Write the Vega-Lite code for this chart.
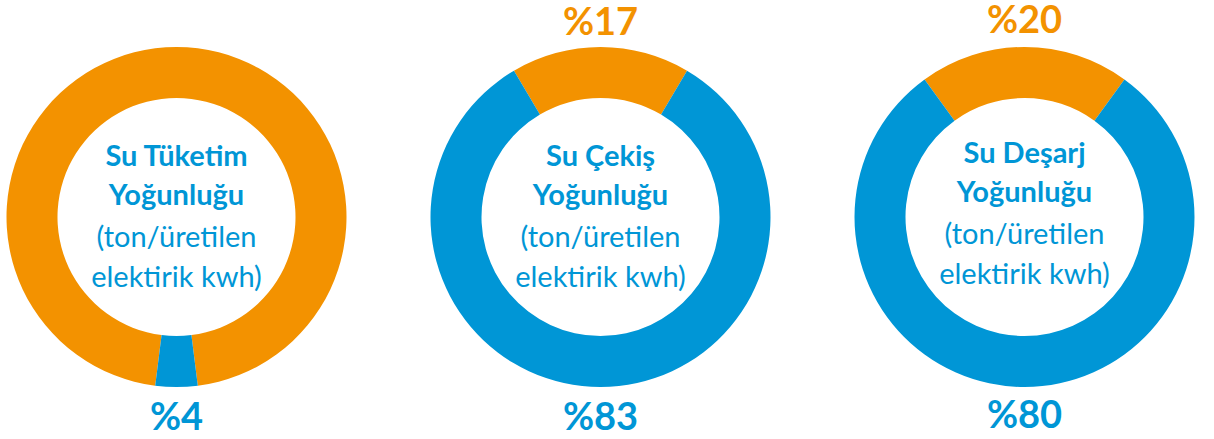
{
  "$schema": "https://vega.github.io/schema/vega-lite/v6.json",
  "padding": 0,
  "spacing": 71,
  "background": "white",
  "config": {"view": {"stroke": null}, "text": {"font": "Lato"}},
  "datasets": {
    "dilimler": [
      {"halka": 1, "part": "A", "pay": 96, "sira": 2},
      {"halka": 1, "part": "B", "pay": 4, "sira": 1},
      {"halka": 2, "part": "A", "pay": 17, "sira": 1},
      {"halka": 2, "part": "B", "pay": 83, "sira": 2},
      {"halka": 3, "part": "A", "pay": 20, "sira": 1},
      {"halka": 3, "part": "B", "pay": 80, "sira": 2}
    ],
    "metin": [
      {"halka": 1, "tur": "yuzde", "metin": "%4", "satir": 9.875, "part": "B"},
      {"halka": 1, "tur": "baslik", "metin": "Su Tüketim", "satir": 3.275, "part": "B"},
      {"halka": 1, "tur": "baslik", "metin": "Yoğunluğu", "satir": 4.25, "part": "B"},
      {"halka": 1, "tur": "birim", "metin": "(ton/üretilen", "satir": 5.3, "part": "B"},
      {"halka": 1, "tur": "birim", "metin": "elektirik kwh)", "satir": 6.3, "part": "B"},
      {"halka": 2, "tur": "yuzde", "metin": "%17", "satir": 0, "part": "A"},
      {"halka": 2, "tur": "yuzde", "metin": "%83", "satir": 9.875, "part": "B"},
      {"halka": 2, "tur": "baslik", "metin": "Su Çekiş", "satir": 3.275, "part": "B"},
      {"halka": 2, "tur": "baslik", "metin": "Yoğunluğu", "satir": 4.25, "part": "B"},
      {"halka": 2, "tur": "birim", "metin": "(ton/üretilen", "satir": 5.3, "part": "B"},
      {"halka": 2, "tur": "birim", "metin": "elektirik kwh)", "satir": 6.3, "part": "B"},
      {"halka": 3, "tur": "yuzde", "metin": "%20", "satir": -0.05, "part": "A"},
      {"halka": 3, "tur": "yuzde", "metin": "%80", "satir": 9.825, "part": "B"},
      {"halka": 3, "tur": "baslik", "metin": "Su Deşarj", "satir": 3.2, "part": "B"},
      {"halka": 3, "tur": "baslik", "metin": "Yoğunluğu", "satir": 4.175, "part": "B"},
      {"halka": 3, "tur": "birim", "metin": "(ton/üretilen", "satir": 5.225, "part": "B"},
      {"halka": 3, "tur": "birim", "metin": "elektirik kwh)", "satir": 6.225, "part": "B"}
    ]
  },
  "hconcat": [
    {
      "width": 353, "height": 434,
      "layer": [
        {
          "data": {"name": "dilimler"},
          "transform": [{"filter": "datum.halka == 1"}],
          "mark": {"type": "arc", "outerRadius": 170, "innerRadius": 119},
          "encoding": {
            "theta": {"field": "pay", "type": "quantitative", "stack": true, "scale": {"range": [3.01593, 9.29912]}},
            "color": {"field": "part", "type": "nominal", "scale": {"domain": ["A", "B"], "range": ["#F39200", "#0096D6"]}, "legend": null},
            "order": {"field": "sira", "type": "quantitative"}
          }
        },
        {
          "data": {"name": "metin"},
          "transform": [{"filter": "datum.halka == 1 && datum.tur == 'yuzde'"}],
          "mark": {"type": "text", "fontSize": 38, "fontWeight": "bold", "align": "center", "baseline": "alphabetic"},
          "encoding": {
            "y": {"field": "satir", "type": "quantitative", "scale": {"domain": [-0.875, 9.975], "reverse": true, "zero": false, "nice": false}, "axis": null},
            "text": {"field": "metin"},
            "color": {"field": "part", "type": "nominal", "legend": null}
          }
        },
        {
          "data": {"name": "metin"},
          "transform": [{"filter": "datum.halka == 1 && datum.tur == 'baslik'"}],
          "mark": {"type": "text", "fontSize": 29, "fontWeight": "bold", "align": "center", "baseline": "alphabetic"},
          "encoding": {
            "y": {"field": "satir", "type": "quantitative", "axis": null},
            "text": {"field": "metin"},
            "color": {"field": "part", "type": "nominal", "legend": null}
          }
        },
        {
          "data": {"name": "metin"},
          "transform": [{"filter": "datum.halka == 1 && datum.tur == 'birim'"}],
          "mark": {"type": "text", "fontSize": 29, "fontWeight": "normal", "align": "center", "baseline": "alphabetic"},
          "encoding": {
            "y": {"field": "satir", "type": "quantitative", "axis": null},
            "text": {"field": "metin"},
            "color": {"field": "part", "type": "nominal", "legend": null}
          }
        }
      ]
    },
    {
      "width": 353, "height": 434,
      "layer": [
        {
          "data": {"name": "dilimler"},
          "transform": [{"filter": "datum.halka == 2"}],
          "mark": {"type": "arc", "outerRadius": 170, "innerRadius": 119},
          "encoding": {
            "theta": {"field": "pay", "type": "quantitative", "stack": true, "scale": {"range": [-0.53407, 5.74911]}},
            "color": {"field": "part", "type": "nominal", "scale": {"domain": ["A", "B"], "range": ["#F39200", "#0096D6"]}, "legend": null},
            "order": {"field": "sira", "type": "quantitative"}
          }
        },
        {
          "data": {"name": "metin"},
          "transform": [{"filter": "datum.halka == 2 && datum.tur == 'yuzde'"}],
          "mark": {"type": "text", "fontSize": 38, "fontWeight": "bold", "align": "center", "baseline": "alphabetic"},
          "encoding": {
            "y": {"field": "satir", "type": "quantitative", "scale": {"domain": [-0.875, 9.975], "reverse": true, "zero": false, "nice": false}, "axis": null},
            "text": {"field": "metin"},
            "color": {"field": "part", "type": "nominal", "legend": null}
          }
        },
        {
          "data": {"name": "metin"},
          "transform": [{"filter": "datum.halka == 2 && datum.tur == 'baslik'"}],
          "mark": {"type": "text", "fontSize": 29, "fontWeight": "bold", "align": "center", "baseline": "alphabetic"},
          "encoding": {
            "y": {"field": "satir", "type": "quantitative", "axis": null},
            "text": {"field": "metin"},
            "color": {"field": "part", "type": "nominal", "legend": null}
          }
        },
        {
          "data": {"name": "metin"},
          "transform": [{"filter": "datum.halka == 2 && datum.tur == 'birim'"}],
          "mark": {"type": "text", "fontSize": 29, "fontWeight": "normal", "align": "center", "baseline": "alphabetic"},
          "encoding": {
            "y": {"field": "satir", "type": "quantitative", "axis": null},
            "text": {"field": "metin"},
            "color": {"field": "part", "type": "nominal", "legend": null}
          }
        }
      ]
    },
    {
      "width": 353, "height": 434,
      "layer": [
        {
          "data": {"name": "dilimler"},
          "transform": [{"filter": "datum.halka == 3"}],
          "mark": {"type": "arc", "outerRadius": 170, "innerRadius": 119},
          "encoding": {
            "theta": {"field": "pay", "type": "quantitative", "stack": true, "scale": {"range": [-0.62832, 5.65487]}},
            "color": {"field": "part", "type": "nominal", "scale": {"domain": ["A", "B"], "range": ["#F39200", "#0096D6"]}, "legend": null},
            "order": {"field": "sira", "type": "quantitative"}
          }
        },
        {
          "data": {"name": "metin"},
          "transform": [{"filter": "datum.halka == 3 && datum.tur == 'yuzde'"}],
          "mark": {"type": "text", "fontSize": 38, "fontWeight": "bold", "align": "center", "baseline": "alphabetic"},
          "encoding": {
            "y": {"field": "satir", "type": "quantitative", "scale": {"domain": [-0.875, 9.975], "reverse": true, "zero": false, "nice": false}, "axis": null},
            "text": {"field": "metin"},
            "color": {"field": "part", "type": "nominal", "legend": null}
          }
        },
        {
          "data": {"name": "metin"},
          "transform": [{"filter": "datum.halka == 3 && datum.tur == 'baslik'"}],
          "mark": {"type": "text", "fontSize": 29, "fontWeight": "bold", "align": "center", "baseline": "alphabetic"},
          "encoding": {
            "y": {"field": "satir", "type": "quantitative", "axis": null},
            "text": {"field": "metin"},
            "color": {"field": "part", "type": "nominal", "legend": null}
          }
        },
        {
          "data": {"name": "metin"},
          "transform": [{"filter": "datum.halka == 3 && datum.tur == 'birim'"}],
          "mark": {"type": "text", "fontSize": 29, "fontWeight": "normal", "align": "center", "baseline": "alphabetic"},
          "encoding": {
            "y": {"field": "satir", "type": "quantitative", "axis": null},
            "text": {"field": "metin"},
            "color": {"field": "part", "type": "nominal", "legend": null}
          }
        }
      ]
    }
  ]
}
